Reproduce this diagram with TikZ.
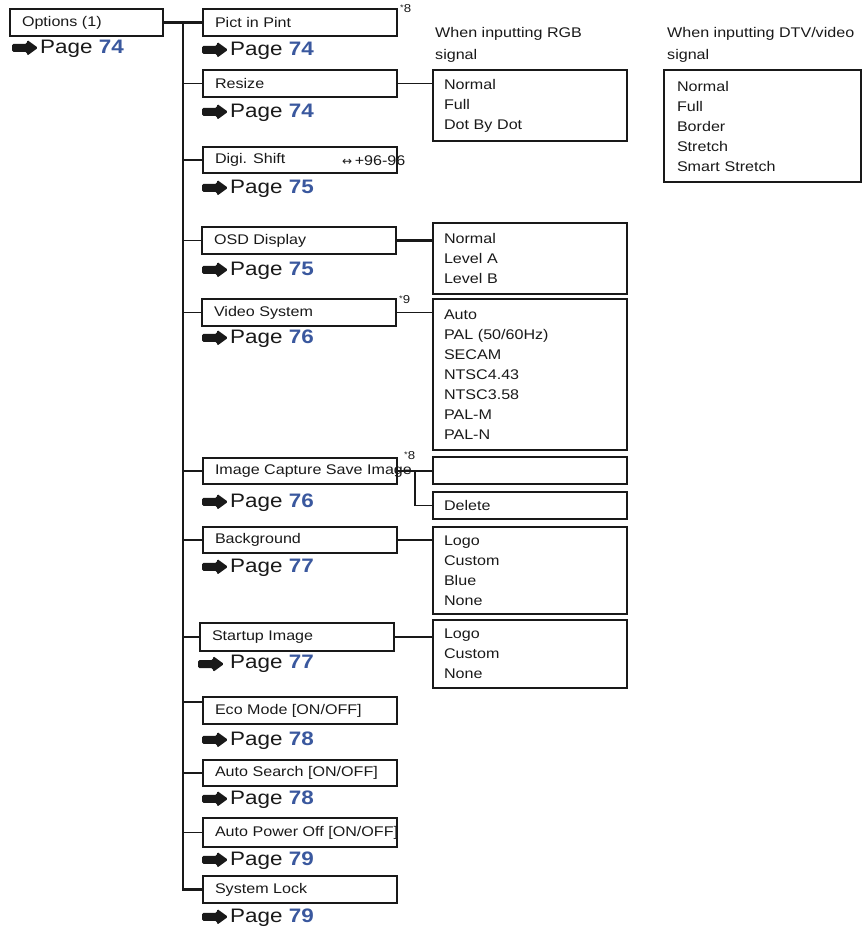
\documentclass[tikz,border=0pt]{standalone}
\usepackage{fontspec}
\setmainfont{Liberation Sans}[FakeStretch=1.15]
\newfontfamily\dvs{DejaVu Sans}
\usetikzlibrary{calc}
\definecolor{pblue}{RGB}{58,88,158}
\definecolor{ink}{RGB}{25,25,25}
\begin{document}
\begin{tikzpicture}[x=1pt,y=-1pt,
  every node/.style={text=ink},
  mbox/.style={draw=ink, line width=1.3pt, minimum width=194pt, minimum height=27pt,
    anchor=north west, inner xsep=12pt, inner ysep=0pt, outer sep=0pt,
    font=\fontsize{14}{16}\selectfont},
  obox/.style={draw=ink, line width=1.3pt, text width=172pt, align=left, inner xsep=11pt,
    inner ysep=0pt, outer sep=0pt, anchor=north west, minimum height=#1,
    font=\fontsize{14}{20}\selectfont},
  pg/.style={anchor=west, inner sep=0pt, font=\fontsize{19.5}{20}\selectfont},
  lbl/.style={anchor=north west, align=left, inner sep=0pt, font=\fontsize{14}{22}\selectfont},
  note/.style={anchor=north west, inner sep=0pt, font=\fontsize{11.5}{12}\selectfont},
  thk/.style={draw=ink, line width=2.8pt},
  thn/.style={draw=ink, line width=1.4pt},
  pics/parr/.style={code={\fill[ink, rounded corners=1.5pt] (-28pt,-4pt) -- (-13pt,-4pt) -- (-13pt,-8pt)
      -- (-2pt,0pt) -- (-13pt,8pt) -- (-13pt,4pt) -- (-28pt,4pt) -- cycle;}}
]
\useasboundingbox (0,0) rectangle (862,932);
\newcommand{\mb}[1]{\makebox[170pt][l]{#1}}
\newcommand{\pgn}[1]{Page \textbf{\color{pblue}#1}}
\newcommand{\nt}[1]{\raisebox{2pt}{\fontsize{8}{8}\selectfont *}#1}

% main menu boxes
\node[mbox, minimum width=153pt] (opt) at (10,9) {\makebox[129pt][l]{Options (1)}};
\node[mbox] (pict) at (203,9) {\mb{Pict in Pint}};
\node[mbox] (rs) at (203,70) {\mb{Resize}};
\node[mbox, minimum height=26pt] (dg) at (203,147) {\mb{Digi. Shift}};
\node[mbox, minimum width=193pt] (osd) at (202,227) {\mb{OSD Display}};
\node[mbox, minimum width=193pt] (vid) at (202,299) {\mb{Video System}};
\node[mbox, minimum height=26pt] (img) at (203,458) {\mb{Image Capture Save Image}};
\node[mbox, minimum height=26pt] (bg) at (203,527) {\mb{Background}};
\node[mbox, minimum width=192pt, minimum height=28pt] (su) at (200,623) {\mb{Startup Image}};
\node[mbox] (eco) at (203,697) {\mb{Eco Mode [ON/OFF]}};
\node[mbox, minimum height=26pt] (as) at (203,760) {\mb{Auto Search [ON/OFF]}};
\node[mbox, minimum height=29pt] (ap) at (203,818) {\mb{Auto Power Off [ON/OFF]}};
\node[mbox] (sys) at (203,876) {\mb{System Lock}};

% extra texts
\node[anchor=west, inner sep=0pt, font=\fontsize{14}{16}\selectfont] (dgv) at (342,161)
  {{\dvs\fontsize{12}{12}\selectfont ↔}\hspace{2.5pt}+96-96};
\node[note] (n1) at (400,4) {\nt{8}};
\node[note] (n2) at (399,295) {\nt{9}};
\node[note] (n3) at (404,451) {\nt{8}};

% page references
\node[pg] (p0) at (40,49) {\pgn{74}};
\node[pg] (p1) at (230,51) {\pgn{74}};
\node[pg] (p2) at (230,113) {\pgn{74}};
\node[pg] (p3) at (230,189) {\pgn{75}};
\node[pg] (p4) at (230,271) {\pgn{75}};
\node[pg] (p5) at (230,339) {\pgn{76}};
\node[pg] (p6) at (230,503) {\pgn{76}};
\node[pg] (p7) at (230,568) {\pgn{77}};
\node[pg] (p8) at (230,664) {\pgn{77}};
\node[pg] (p9) at (230,741) {\pgn{78}};
\node[pg] (p10) at (230,800) {\pgn{78}};
\node[pg] (p11) at (230,861) {\pgn{79}};
\node[pg] (p12) at (230,918) {\pgn{79}};
\foreach \p in {p0,p1,p2,p3,p4,p5,p6,p7,p9,p10,p11,p12}{
  \pic at ([yshift=1.2pt]\p.west) {parr};
}
\pic at ([xshift=-4pt]p8.west) {parr};

% headings
\node[lbl] (t1) at (435,27) {When inputting RGB\\signal};
\node[lbl] (t2) at (667,27) {When inputting DTV/video\\signal};

% option boxes
\node[obox=71pt] (rgb) at (433,70) {Normal\\Full\\Dot By Dot};
\node[obox=112pt, text width=171pt, inner xsep=13pt] (dtv) at (664,70) {Normal\\Full\\Border\\Stretch\\Smart Stretch};
\node[obox=71pt] (osdo) at (433,223) {Normal\\Level A\\Level B};
\node[obox=151pt] (vido) at (433,299) {Auto\\PAL (50/60Hz)\\SECAM\\NTSC4.43\\NTSC3.58\\PAL-M\\PAL-N};
\node[obox=27pt] (sav) at (433,457) {};
\node[obox=27pt] (del) at (433,492) {Delete};
\node[obox=87pt] (bgo) at (433,527) {Logo\\Custom\\Blue\\None};
\node[obox=68pt] (suo) at (433,620) {Logo\\Custom\\None};

% trunk
\coordinate (tk) at (183,22.5);
\coordinate (ecoy) at (0,702);
\coordinate (icj) at (415,0);
\draw[thk] (opt.east) -- (pict.west);
\draw[thk] (tk) |- (sys.west);
\draw[thn] (tk |- rs.west) -- (rs.west);
\draw[thk] (tk |- dg.west) -- (dg.west);
\draw[thn] (tk |- osd.west) -- (osd.west);
\draw[thn] (tk |- vid.west) -- (vid.west);
\draw[thk] (tk |- img.west) -- (img.west);
\draw[thk] (tk |- bg.west) -- (bg.west);
\draw[thn] (tk |- su.west) -- (su.west);
\draw[thk] (tk |- ecoy) -- (eco.west |- ecoy);
\draw[thn] (tk |- as.west) -- (as.west);
\draw[thn] (tk |- ap.west) -- (ap.west);

% right-side connectors
\draw[thn] (rs.east) -- (rs.east -| rgb.west);
\draw[thk] (osd.east) -- (osd.east -| osdo.west);
\draw[thn] (vid.east) -- (vid.east -| vido.west);
\draw[thn] (img.east) -- (img.east -| sav.west);
\draw[thk] (icj |- img.east) -- (icj |- del.west);
\draw[thn] (icj |- del.west) -- (del.west);
\draw[thk] (bg.east) -- (bg.east -| bgo.west);
\draw[thn] (su.east) -- (su.east -| suo.west);
\end{tikzpicture}
\end{document}
